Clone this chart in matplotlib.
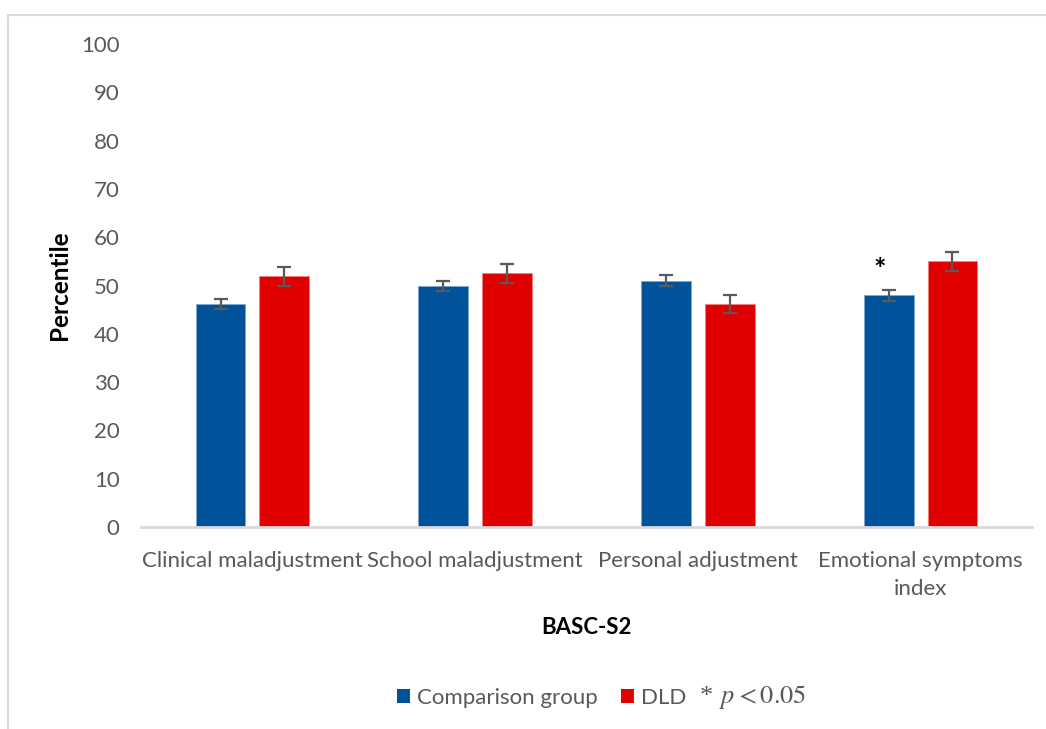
import matplotlib
matplotlib.use("Agg")
import matplotlib.pyplot as plt
from matplotlib.lines import Line2D
from matplotlib.patches import Patch
import numpy as np

categories = ["Clinical maladjustment", "School maladjustment",
              "Personal adjustment", "Emotional symptoms\nindex"]
comparison = [46.2, 49.9, 51.0, 48.0]
comparison_err = [1.1, 1.1, 1.15, 1.15]
dld = [51.9, 52.5, 46.2, 55.0]
dld_err = [1.9, 1.9, 1.9, 1.9]
significant = [False, False, False, True]
yticks = list(range(0, 101, 10))

BLUE = "#00539b"
RED = "#e00000"
GRAY = "#595959"
FONT = "Lato"

plt.rcParams["font.family"] = [FONT, "DejaVu Sans"]

W, H = 1046, 729
fig = plt.figure(figsize=(W / 100, H / 100), dpi=100)
ax = fig.add_axes([141 / W, 1 - 527 / H, (1032 - 141) / W, (527 - 44) / H])

x = np.arange(len(categories))
offset = 0.143
width = 0.224
ax.bar(x - offset, comparison, width, color=BLUE, edgecolor="#7fa6cc", linewidth=0.6,
       yerr=comparison_err, error_kw=dict(ecolor=GRAY, elinewidth=1.6, capsize=5, capthick=1.6))
ax.bar(x + offset, dld, width, color=RED, edgecolor="#ef8080", linewidth=0.6,
       yerr=dld_err, error_kw=dict(ecolor=GRAY, elinewidth=1.6, capsize=5, capthick=1.6))

for i, sig in enumerate(significant):
    if sig:
        ax.text(x[i] - offset - 0.04, comparison[i] + comparison_err[i] + 1.3, "*",
                ha="center", va="bottom", fontsize=21, fontweight="bold", color="black")

ax.set_xlim(-0.5, len(categories) - 0.5)
ax.set_ylim(0, 100)
ax.set_yticks(yticks)
ax.set_xticks(x)
ax.set_xticklabels(categories, fontsize=16, color=GRAY, linespacing=1.5)
ax.tick_params(axis="y", labelsize=16, labelcolor=GRAY, length=0, pad=15.5)
ax.tick_params(axis="x", length=0, pad=17.5)
for side in ("top", "right", "left"):
    ax.spines[side].set_visible(False)
ax.spines["bottom"].set_color("#d9d9d9")
ax.spines["bottom"].set_linewidth(2)

ax.set_ylabel("Percentile", fontsize=17.5, fontweight="bold", color="black", labelpad=7)
ax.set_xlabel("BASC-S2", fontsize=16, fontweight="bold", color="black", labelpad=13)

# chart frame
fig.add_artist(Line2D([8 / W, 1.0], [1 - 15 / H, 1 - 15 / H], color="#d9d9d9", lw=1.5))
fig.add_artist(Line2D([8 / W, 8 / W], [0, 1 - 15 / H], color="#d9d9d9", lw=1.5))

handles = [Patch(facecolor=BLUE), Patch(facecolor=RED)]
leg = fig.legend(handles, ["Comparison group", "DLD"], loc="center left",
                 bbox_to_anchor=(397 / W, 1 - 698 / H), ncol=2, frameon=False,
                 fontsize=16, handlelength=0.6, handleheight=0.6, handletextpad=0.3,
                 columnspacing=1.05, borderpad=0, borderaxespad=0)
for t in leg.get_texts():
    t.set_color(GRAY)

# significance note
fig.text(700 / W, 1 - 703 / H, "*", fontsize=19, color=GRAY, family="Liberation Serif",
         ha="left", va="baseline")
fig.text(719 / W, 1 - 703 / H, r"$p < 0.05$", fontsize=19, color=GRAY,
         ha="left", va="baseline", math_fontfamily="stix")

fig.savefig("out.png", dpi=100, facecolor="white")
